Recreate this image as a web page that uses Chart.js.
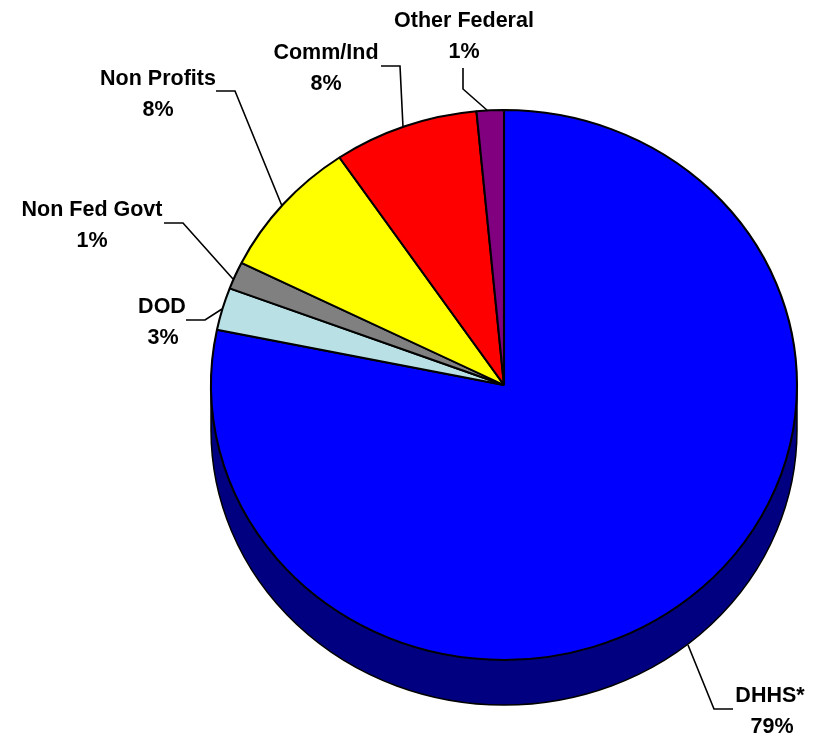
<!DOCTYPE html>
<html>
<head>
<meta charset="utf-8">
<title>Funding by source</title>
<script src="https://cdn.jsdelivr.net/npm/chart.js@4"></script>
<style>
  html, body { margin: 0; padding: 0; background: #fff; }
  canvas { display: block; }
</style>
</head>
<body>
<canvas id="pieChart" width="817" height="735"></canvas>
<script>
const categories = ['DHHS*', 'DOD', 'Non Fed Govt', 'Non Profits', 'Comm/Ind', 'Other Federal'];
const shares = [78.3, 2.5, 1.6, 8.2, 8.0, 1.5];
const shareLabels = ['79%', '3%', '1%', '8%', '8%', '1%'];
const sliceColors = ['#0000FF', '#B9E0E4', '#808080', '#FFFF00', '#FF0000', '#800080'];

// tilted look: pie is squashed into an ellipse and sits on a dark rim
const pieX = 504, pieY = 385, radiusX = 293, radiusY = 275, rimDepth = 45;

const labelSpots = [
    { x: 770, y: 702, x2: 772 },
    { x: 162, y: 313, x2: 163 },
    { x: 92, y: 216 },
    { x: 158, y: 85 },
    { x: 326, y: 59 },
    { x: 464, y: 27 }
];
const leaders = [
    [[688, 645], [714, 709], [733, 709]],
    [[186, 320], [205, 320], [222, 309]],
    [[164, 223], [183, 223], [233, 279]],
    [[216, 91], [235, 91], [282, 206]],
    [[381, 66], [400, 66], [403, 127]],
    [[463, 68], [463, 89], [488, 111]]
];

const tiltPlugin = {
    id: 'tilt',
    beforeDatasetsDraw(chart) {
        const ctx = chart.ctx;
        const arc = chart.getDatasetMeta(0).data[0];

        ctx.save();
        ctx.fillStyle = '#000080';
        ctx.strokeStyle = '#000';
        ctx.lineWidth = 1.5;
        ctx.beginPath();
        ctx.moveTo(pieX - radiusX, pieY);
        ctx.lineTo(pieX - radiusX, pieY + rimDepth);
        ctx.ellipse(pieX, pieY + rimDepth, radiusX, radiusY, 0, Math.PI, 0, true);
        ctx.lineTo(pieX + radiusX, pieY);
        ctx.closePath();
        ctx.fill();
        ctx.stroke();
        ctx.restore();

        ctx.save();
        ctx.translate(pieX, pieY);
        ctx.scale(radiusX / arc.outerRadius, radiusY / arc.outerRadius);
        ctx.translate(-arc.x, -arc.y);
    },
    afterDatasetsDraw(chart) {
        chart.ctx.restore();
    },
    afterDraw(chart) {
        const ctx = chart.ctx;
        ctx.save();
        ctx.strokeStyle = '#000';
        ctx.lineWidth = 1.6;
        leaders.forEach(function (pts) {
            ctx.beginPath();
            pts.forEach(function (p, i) {
                if (i === 0) ctx.moveTo(p[0], p[1]);
                else ctx.lineTo(p[0], p[1]);
            });
            ctx.stroke();
        });
        ctx.fillStyle = '#000';
        ctx.font = 'bold 21.5px "Liberation Sans"';
        ctx.textAlign = 'center';
        ctx.textBaseline = 'alphabetic';
        categories.forEach(function (name, i) {
            const spot = labelSpots[i];
            ctx.fillText(name, spot.x, spot.y);
            ctx.fillText(shareLabels[i], spot.x2 || spot.x, spot.y + 31);
        });
        ctx.restore();
    }
};

new Chart(document.getElementById('pieChart').getContext('2d'), {
    type: 'pie',
    data: {
        labels: categories,
        datasets: [{
            data: shares,
            backgroundColor: sliceColors,
            borderColor: '#000',
            borderWidth: 2.6,
            borderAlign: 'center'
        }]
    },
    options: {
        responsive: false,
        animation: false,
        layout: { padding: 0 },
        plugins: {
            legend: { display: false },
            tooltip: { enabled: false },
            title: { display: false }
        }
    },
    plugins: [tiltPlugin]
});
</script>
</body>
</html>
